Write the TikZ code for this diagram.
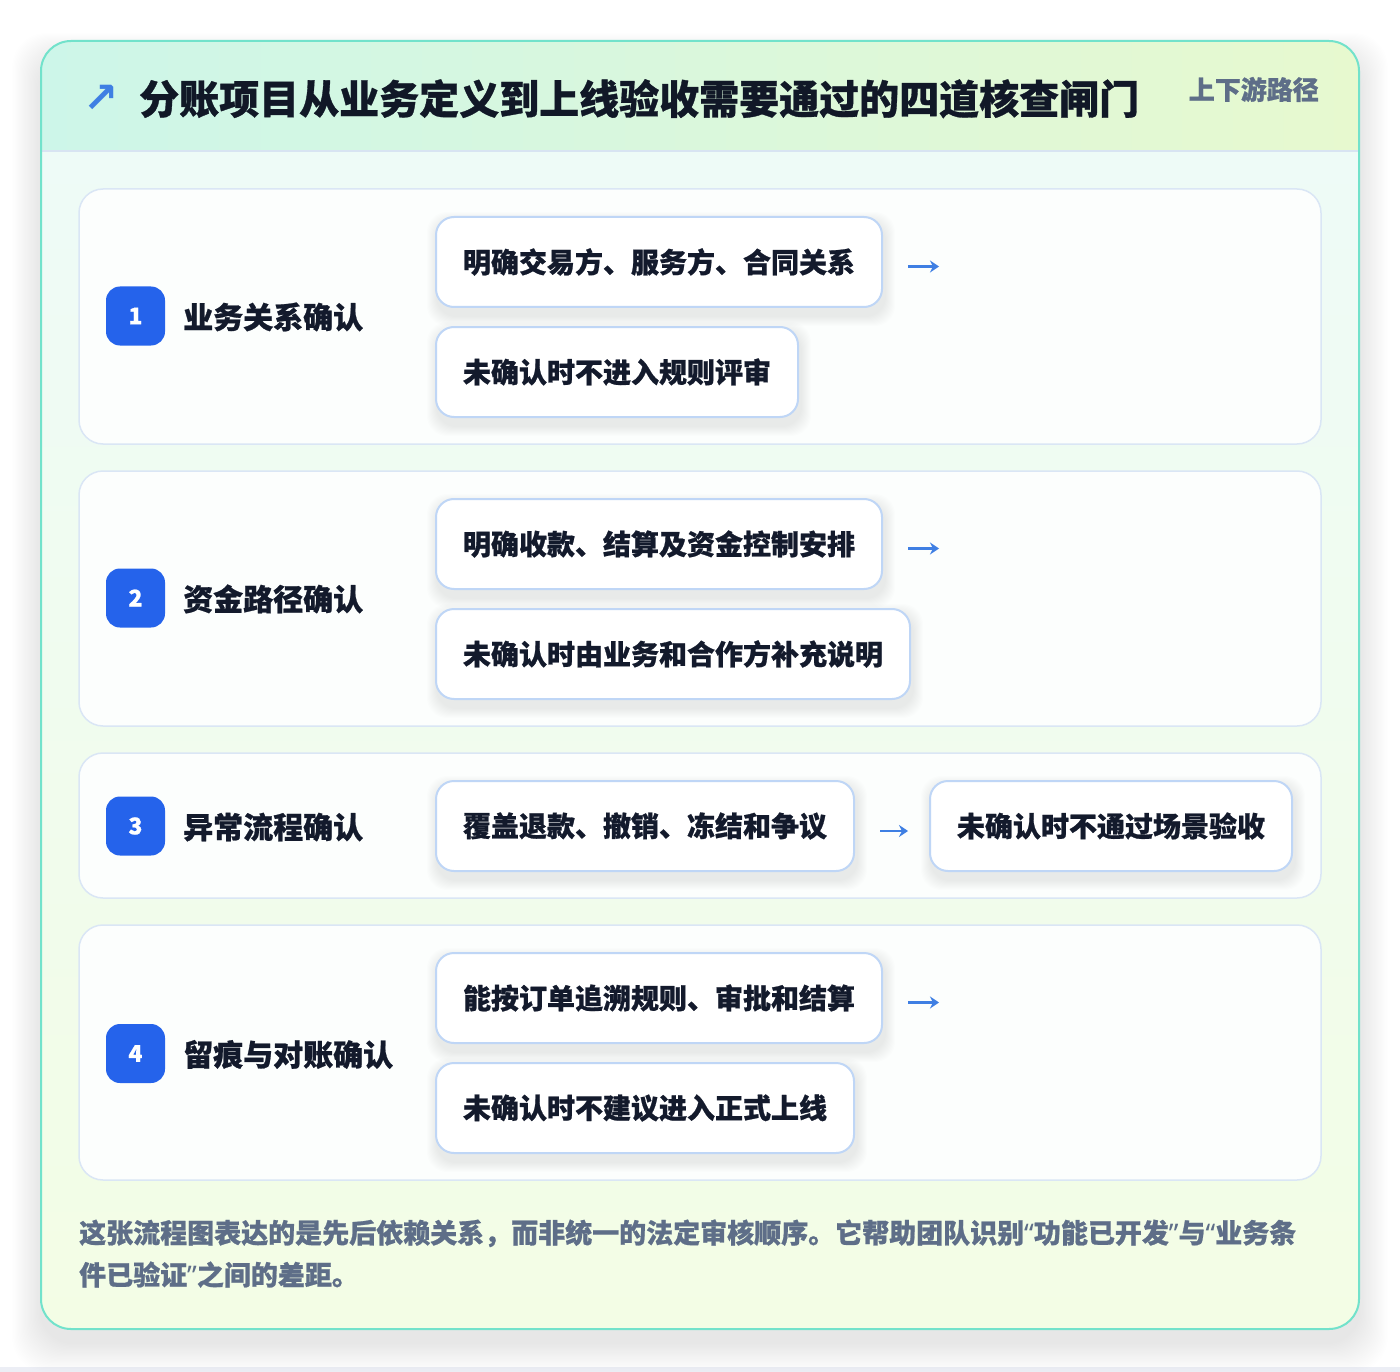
\documentclass[tikz,border=0pt]{standalone}
\usepackage{fontspec}
\setmainfont{Noto Sans CJK SC}[BoldFeatures={FakeBold=0.8}]
\newfontfamily\latin{Noto Sans}[BoldFeatures={FakeBold=0.8}]
\newfontfamily\symfont{DejaVu Sans}
\usetikzlibrary{arrows.meta}
\definecolor{titleC}{HTML}{111827}
\definecolor{txtC}{HTML}{131A2C}
\definecolor{slateC}{HTML}{5E6E88}
\definecolor{badgeC}{HTML}{2563EB}
\definecolor{arrC}{HTML}{3F7FE3}
\definecolor{boxB}{HTML}{BFD6F6}
\definecolor{cardB}{HTML}{DAE6F5}
\definecolor{cardF}{HTML}{FCFEFD}
\definecolor{frameC}{HTML}{72E2CB}
\definecolor{hdrL}{HTML}{CDF6E9}
\definecolor{hdrR}{HTML}{E7F9CF}
\definecolor{bodyT}{HTML}{EEFBF7}
\definecolor{bodyB}{HTML}{F3FDE5}
\definecolor{sepC}{HTML}{D8E4F2}
\definecolor{bandC}{HTML}{ECEEF5}
\pgfdeclarelayer{backL}
\pgfdeclarelayer{cardL}
\pgfdeclarelayer{shadowL}
\pgfsetlayers{backL,cardL,shadowL,main}
\tikzset{
  card/.style={draw=cardB, line width=1.5pt, fill=cardF, rounded corners=24pt, minimum width=1242pt, inner sep=0pt},
  badge/.style={fill=badgeC, rounded corners=14pt, minimum size=59pt, inner sep=0pt, text=white, font=\fontsize{23}{23}\selectfont\bfseries},
  lbl/.style={anchor=base west, inner sep=0pt, text=txtC, font=\fontsize{30}{30}\selectfont\bfseries},
  stepbox/.style={draw=boxB, line width=2pt, fill=white, rounded corners=18pt, minimum height=90pt, inner xsep=27pt, inner ysep=0pt, anchor=west, text=txtC, font=\fontsize{28}{28}\selectfont\bfseries},
  arr/.style={draw=arrC, line width=2.8pt, -{Stealth[length=9pt,width=12pt,inset=3pt]}},
  foot/.style={anchor=base west, inner sep=0pt, text=slateC, font=\fontsize{27}{27}\selectfont\bfseries},
  shd/.style={fill=black, opacity=0.004}
}
\begin{document}
\begin{tikzpicture}[x=1pt,y=-1pt]
\useasboundingbox (0,0) rectangle (1400,1372);
\begin{pgfonlayer}{backL}
\fill[white] (0,0) rectangle (1400,1372);
\fill[bandC] (0,1367) rectangle (1400,1372);
% soft shadow of the frame
\foreach \i in {1,...,24}{
  \fill[shd, rounded corners=34pt] (41-1.2*\i, 57-1.0*\i) rectangle (1359+1.2*\i, 1343+1.2*\i);
}
\begin{scope}
  \clip[rounded corners=30pt] (41,41) rectangle (1359,1329);
  \shade[left color=hdrL, right color=hdrR] (41,41) rectangle (1359,151);
  \shade[top color=bodyT, bottom color=bodyB] (41,151) rectangle (1359,1329);
\end{scope}
\draw[sepC, line width=1.5pt] (42,151) -- (1358,151);
\draw[frameC, line width=2pt, rounded corners=30pt] (41,41) rectangle (1359,1329);
\end{pgfonlayer}

% header
\node[anchor=center, inner sep=0pt, text=arrC, font=\symfont\bfseries\fontsize{42}{42}\selectfont] (icon) at (101,99) {↗};
\node[anchor=base west, inner sep=0pt, text=titleC, font=\fontsize{40}{40}\selectfont\bfseries] (title) at (139,114) {分账项目从业务定义到上线验收需要通过的四道核查闸门};
\node[anchor=base east, inner sep=0pt, text=slateC, font=\fontsize{26}{26}\selectfont\bfseries] (tag) at (1319,99.5) {上下游路径};

% cards
\begin{pgfonlayer}{cardL}
\node[card, minimum height=255pt] (c1) at (700,316.5) {};
\node[card, minimum height=255pt] (c2) at (700,598.5) {};
\node[card, minimum height=145pt] (c3) at (700,825.5) {};
\node[card, minimum height=255pt] (c4) at (700,1052.5) {};
\end{pgfonlayer}

% badges and labels
\node[badge] (b1) at (135.5,316) {1};
\node[badge] (b2) at (135.5,598) {2};
\node[badge] (b3) at (135.5,826) {3};
\node[badge] (b4) at (135.5,1053.5) {4};
\node[lbl] (l1) at (183,328.5) {业务关系确认};
\node[lbl] (l2) at (183,610.5) {资金路径确认};
\node[lbl] (l3) at (183,838.5) {异常流程确认};
\node[lbl] (l4) at (183,1066) {留痕与对账确认};

% step boxes
\node[stepbox] (s1a) at (435,262) {明确交易方、服务方、合同关系};
\node[stepbox] (s1b) at (435,372) {未确认时不进入规则评审};
\node[stepbox] (s2a) at (435,544) {明确收款、结算及资金控制安排};
\node[stepbox] (s2b) at (435,654) {未确认时由业务和合作方补充说明};
\node[stepbox] (s3a) at (435,826) {覆盖退款、撤销、冻结和争议};
\node[stepbox] (s3b) at (929,826) {未确认时不通过场景验收};
\node[stepbox] (s4a) at (435,998) {能按订单追溯规则、审批和结算};
\node[stepbox] (s4b) at (435,1108) {未确认时不建议进入正式上线};

% soft shadows of the step boxes
\begin{pgfonlayer}{shadowL}
\foreach \n in {s1a,s1b,s2a,s2b,s3a,s3b,s4a,s4b}{
  \foreach \i in {1,...,10}{
    \fill[shd, opacity=0.008, rounded corners=20pt] ([xshift={-\i*1pt+2pt}, yshift={\i*1pt-6pt}]\n.north west) rectangle ([xshift={\i*1pt+2pt}, yshift={-\i*1pt-8pt}]\n.south east);
  }
}
\end{pgfonlayer}

% arrows
\coordinate (e1) at ([xshift=56pt,yshift=-4.5pt]s1a.east);
\coordinate (e2) at ([xshift=56pt,yshift=-4.5pt]s2a.east);
\coordinate (e4) at ([xshift=56pt,yshift=-4.5pt]s4a.east);
\draw[arr, shorten <=25pt] ([yshift=-4.5pt]s1a.east) -- (e1);
\draw[arr, shorten <=25pt] ([yshift=-4.5pt]s2a.east) -- (e2);
\draw[arr, shorten <=25pt] ([yshift=-4.5pt]s4a.east) -- (e4);
\draw[arr, shorten <=25pt, shorten >=21pt] ([yshift=-5pt]s3a.east) -- ([yshift=-5pt]s3b.west);

% footer
\node[foot] (f1) at (79,1243) {这张流程图表达的是先后依赖关系，而非统一的法定审核顺序。它帮助团队识别{\latin“}功能已开发{\latin”}与{\latin“}业务条};
\node[foot] (f2) at (79,1285) {件已验证{\latin”}之间的差距。};
\end{tikzpicture}
\end{document}
